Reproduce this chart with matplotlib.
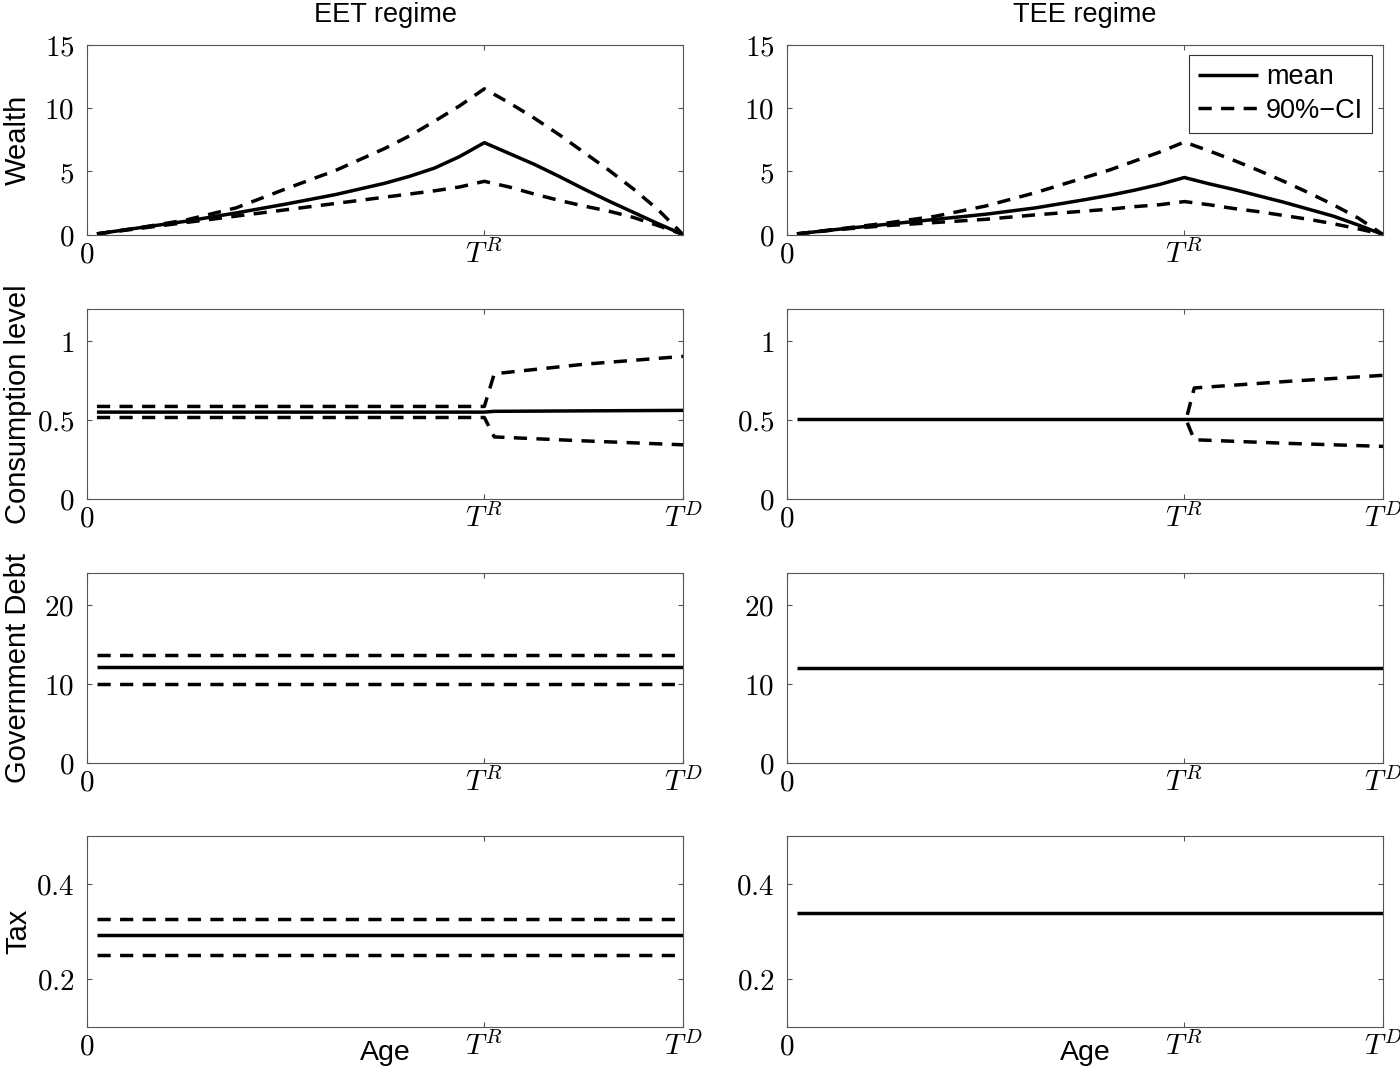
import matplotlib
matplotlib.use('Agg')
import matplotlib.pyplot as plt

## data area
# Alter (Jahre), T^R = 40, T^D = 60
ages_w = [1, 5, 10, 15, 20, 25, 30, 32.5, 35, 37.5, 40, 42.5, 45, 47.5, 50, 52.5, 55, 57.5, 60]
eet_wealth_mean = [0.05, 0.5, 1.05, 1.7, 2.4, 3.15, 4.05, 4.6, 5.25, 6.15, 7.25,
                   6.4, 5.55, 4.6, 3.6, 2.65, 1.75, 0.85, 0.0]
eet_wealth_up = [0.05, 0.5, 1.15, 2.1, 3.6, 5.05, 6.8, 7.8, 8.95, 10.15, 11.5,
                 10.4, 9.2, 7.9, 6.5, 5.1, 3.6, 1.95, 0.0]
eet_wealth_lo = [0.05, 0.45, 0.95, 1.45, 1.95, 2.45, 2.95, 3.2, 3.45, 3.75, 4.2,
                 3.75, 3.2, 2.7, 2.25, 1.85, 1.35, 0.7, 0.0]
tee_wealth_mean = [0.05, 0.4, 0.8, 1.2, 1.6, 2.1, 2.75, 3.1, 3.5, 3.95, 4.5,
                   4.0, 3.55, 3.05, 2.55, 2.0, 1.45, 0.75, 0.0]
tee_wealth_up = [0.05, 0.42, 0.9, 1.45, 2.25, 3.3, 4.5, 5.1, 5.8, 6.5, 7.3,
                 6.6, 5.85, 5.05, 4.2, 3.3, 2.35, 1.3, 0.0]
tee_wealth_lo = [0.05, 0.38, 0.7, 0.95, 1.2, 1.55, 1.85, 2.0, 2.2, 2.35, 2.6,
                 2.35, 2.05, 1.8, 1.5, 1.2, 0.85, 0.45, 0.0]

ages_c = [1, 40, 41, 50, 60]
eet_cons_mean = [0.547, 0.547, 0.552, 0.555, 0.558]
eet_cons_up = [0.583, 0.583, 0.79, 0.85, 0.90]
eet_cons_lo = [0.513, 0.513, 0.39, 0.365, 0.34]
ages_c_tee = [1, 40, 41, 50, 60]
tee_cons_mean = [0.506, 0.506, 0.506, 0.506, 0.506]
ages_c_tee_ci = [40.3, 41, 50, 60]
tee_cons_up = [0.53, 0.70, 0.74, 0.78]
tee_cons_lo = [0.48, 0.372, 0.35, 0.33]

ages_flat = [1, 60]
eet_debt_mean = [12.05, 12.05]
eet_debt_up = [13.65, 13.65]
eet_debt_lo = [10.0, 10.0]
tee_debt_mean = [11.98, 11.98]

eet_tax_mean = [0.293, 0.293]
eet_tax_up = [0.325, 0.325]
eet_tax_lo = [0.25, 0.25]
tee_tax_mean = [0.339, 0.339]

col_titles = ['EET regime', 'TEE regime']
row_labels = ['Wealth', 'Consumption level', 'Government Debt', 'Tax']
legend_labels = ['mean', '90%\u2212CI']

## style area
plt.rcParams['mathtext.fontset'] = 'cm'
plt.rcParams['font.family'] = ['Liberation Sans', 'DejaVu Sans']

W, H = 1400, 1068
fig = plt.figure(figsize=(W / 100, H / 100), dpi=100)

col_left = [87, 787]
col_width = 596
rows_px = [(44.5, 234.5), (309, 498.5), (573, 762.5), (836, 1026.5)]

LW = 2.5
DASH = (3.8, 2.7)
GREY = '#555555'
SANS = 20.5


def make_axes(r, c):
    top, bot = rows_px[r]
    ax = fig.add_axes([col_left[c] / W, 1 - bot / H, col_width / W, (bot - top) / H])
    return ax


def style_axes(ax, ylim, yticks, ylabels, xticks, xlabels):
    ax.set_xlim(0, 60)
    ax.set_ylim(*ylim)
    ax.set_xticks(xticks)
    ax.set_xticklabels(xlabels, fontsize=21)
    ax.set_yticks(yticks)
    ax.set_yticklabels(ylabels, fontsize=21)
    ax.tick_params(direction='in', length=3.6, width=0.8, color=GREY, top=True, right=True)
    ax.tick_params(axis='x', pad=4)
    ax.tick_params(axis='y', pad=9)
    for sp in ax.spines.values():
        sp.set_color(GREY)
        sp.set_linewidth(0.8)


def plot_set(ax, x, mean, up=None, lo=None, x_ci=None):
    ax.plot(x, mean, color='k', lw=LW, solid_capstyle='butt')
    if up is not None:
        xc = x if x_ci is None else x_ci
        ax.plot(xc, up, color='k', lw=LW, dashes=DASH)
        ax.plot(xc, lo, color='k', lw=LW, dashes=DASH)


xt_top = [0, 40]
xl_top = ['$0$', '$T^R$']
xt = [0, 40, 60]
xl = ['$0$', '$T^R$', '$T^D$']

axes = [[make_axes(r, c) for c in range(2)] for r in range(4)]

# Reihe 1: Vermoegen
plot_set(axes[0][0], ages_w, eet_wealth_mean, eet_wealth_up, eet_wealth_lo)
plot_set(axes[0][1], ages_w, tee_wealth_mean, tee_wealth_up, tee_wealth_lo)
for ax in axes[0]:
    style_axes(ax, (0, 15), [0, 5, 10, 15], ['$0$', '$5$', '$10$', '$15$'], xt_top, xl_top)

# Reihe 2: Konsum
plot_set(axes[1][0], ages_c, eet_cons_mean, eet_cons_up, eet_cons_lo)
plot_set(axes[1][1], ages_c_tee, tee_cons_mean, tee_cons_up, tee_cons_lo, x_ci=ages_c_tee_ci)
for ax in axes[1]:
    style_axes(ax, (0, 1.2), [0, 0.5, 1], ['$0$', '$0.5$', '$1$'], xt, xl)

# Reihe 3: Staatsschulden
plot_set(axes[2][0], ages_flat, eet_debt_mean, eet_debt_up, eet_debt_lo)
plot_set(axes[2][1], ages_flat, tee_debt_mean)
for ax in axes[2]:
    style_axes(ax, (0, 24), [0, 10, 20], ['$0$', '$10$', '$20$'], xt, xl)

# Reihe 4: Steuer
plot_set(axes[3][0], ages_flat, eet_tax_mean, eet_tax_up, eet_tax_lo)
plot_set(axes[3][1], ages_flat, tee_tax_mean)
for ax in axes[3]:
    style_axes(ax, (0.1, 0.5), [0.2, 0.4], ['$0.2$', '$0.4$'], xt, xl)

# Titel, Achsenbeschriftungen
for c in range(2):
    axes[0][c].set_title(col_titles[c], fontsize=19.5, pad=16)
    ax = axes[3][c]
    ax.set_xlabel('Age', fontsize=SANS)
    ax.xaxis.set_label_coords(0.5, -(1040 - 1026.5) / 190)
    ax.xaxis.label.set_va('top')

for r in range(4):
    ax = axes[r][0]
    ax.set_ylabel(row_labels[r], fontsize=SANS + 0.5)
    ax.yaxis.set_label_coords(-(87 - 26) / col_width, 0.5)
    ax.yaxis.label.set_va('baseline')

leg = axes[0][1].legend(axes[0][1].lines[:2], legend_labels, loc='upper right', fontsize=19.5,
                        fancybox=False, framealpha=1, edgecolor='#333333',
                        handlelength=2.2, handletextpad=0.3, labelspacing=0.28,
                        borderpad=0.33, borderaxespad=0.4)
leg.get_frame().set_linewidth(0.8)

fig.savefig('out.png', dpi=100)
